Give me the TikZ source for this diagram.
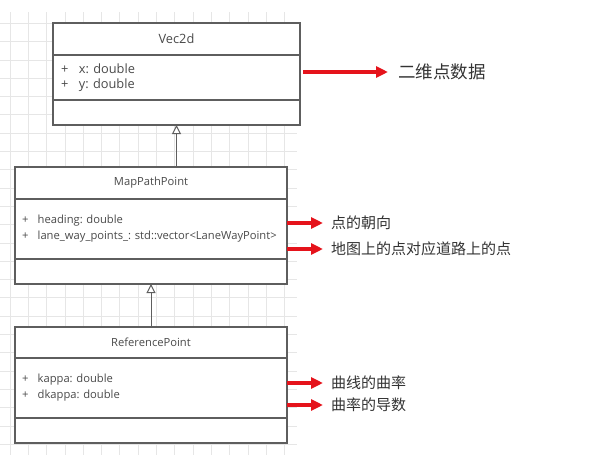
\documentclass[tikz,border=0pt]{standalone}
\usepackage{fontspec}
\setmainfont{Open Sans}
\newfontfamily\cjk{Noto Sans CJK SC}
\usetikzlibrary{arrows.meta,positioning}
\frenchspacing

\definecolor{umlgray}{HTML}{5E5E5E}
\definecolor{umltext}{HTML}{4A4A4A}
\definecolor{notegray}{HTML}{333333}
\definecolor{arrowred}{HTML}{E5131B}
\definecolor{gridgray}{HTML}{E6E6E6}

\newcommand{\umlattr}[1]{\makebox[1.4em][l]{+}#1}

\tikzset{
    gridline/.style={draw=gridgray, line width=0.8pt},
    umlbox/.style={draw=umlgray, line width=1.2pt, text=umltext, fill=white,
        inner sep=0pt, outer sep=0pt, anchor=north west},
    bigtext/.style={font=\fontsize{12.8}{15}\selectfont},
    smalltext/.style={font=\fontsize{11.2}{16}\selectfont},
    note/.style={anchor=west, inner sep=0pt, text=notegray,
        font=\cjk\fontsize{15}{15}\selectfont},
    pointer/.style={draw=arrowred, line width=3.5pt,
        -{Triangle[length=12pt, width=11pt]}},
    inherit/.style={draw=umlgray, line width=1pt,
        -{Triangle[open, length=9pt, width=9pt, fill=white]}},
}

\begin{document}
\begin{tikzpicture}[x=1pt, y=-1pt]
    \useasboundingbox (0,0) rectangle (614,469);

    % grid behind the classes
    \foreach \gx in {10,28.3,...,297}
        \draw[gridline] (\gx,12) -- (\gx,455);
    \foreach \gy in {23.3,41.6,...,455}
        \draw[gridline] (0,\gy) -- (297,\gy);

    % Vec2d
    \node at (53,23) (vec) [umlbox, bigtext, minimum width=247pt, minimum height=32pt] {Vec2d};
    \node (vec-attrs) [umlbox, bigtext, below=0pt of vec, minimum width=247pt, minimum height=45pt,
        text width=231pt, inner xsep=8pt, align=left]
        {\umlattr{x: double}\\ \umlattr{y: double}};
    \node (vec-ops) [umlbox, below=0pt of vec-attrs, minimum width=247pt, minimum height=25pt] {};

    % MapPathPoint
    \node at (15,167) (map) [umlbox, smalltext, minimum width=272pt, minimum height=32pt] {MapPathPoint};
    \node (map-attrs) [umlbox, smalltext, below=0pt of map, minimum width=272pt, minimum height=60pt,
        text width=258pt, inner xsep=7pt, align=left]
        {\umlattr{heading: double}\\ \umlattr{lane\_way\_points\_: std::vector<LaneWayPoint>}};
    \node (map-ops) [umlbox, below=0pt of map-attrs, minimum width=272pt, minimum height=25pt] {};

    % ReferencePoint
    \node at (15,327) (ref) [umlbox, smalltext, minimum width=272pt, minimum height=31pt] {ReferencePoint};
    \node (ref-attrs) [umlbox, smalltext, below=0pt of ref, minimum width=272pt, minimum height=60pt,
        text width=258pt, inner xsep=7pt, align=left]
        {\umlattr{kappa: double}\\ \umlattr{dkappa: double}};
    \node (ref-ops) [umlbox, below=0pt of ref-attrs, minimum width=272pt, minimum height=25pt] {};

    % notes
    \node at (398,72)  (vec-note)   [note, font=\cjk\fontsize{17.5}{17.5}\selectfont] {二维点数据};
    \node at (331,223) (map-note-a) [note] {点的朝向};
    \node at (331,249) (map-note-b) [note] {地图上的点对应道路上的点};
    \node at (331,383) (ref-note-a) [note] {曲线的曲率};
    \node at (331,405) (ref-note-b) [note] {曲率的导数};

    \draw[pointer, shorten <=3pt, shorten >=10pt] (vec-attrs.east |- vec-note) -- (vec-note.west);
    \draw[pointer, shorten >=8pt] (map-attrs.east |- map-note-a) -- (map-note-a.west);
    \draw[pointer, shorten >=8pt] (map-attrs.east |- map-note-b) -- (map-note-b.west);
    \draw[pointer, shorten >=8pt] (ref-attrs.east |- ref-note-a) -- (ref-note-a.west);
    \draw[pointer, shorten >=8pt] (ref-attrs.east |- ref-note-b) -- (ref-note-b.west);

    % inheritance
    \draw[inherit] (map.north -| vec-ops.south) -- (vec-ops.south);
    \draw[inherit] (ref.north) -- (map-ops.south);
\end{tikzpicture}
\end{document}
